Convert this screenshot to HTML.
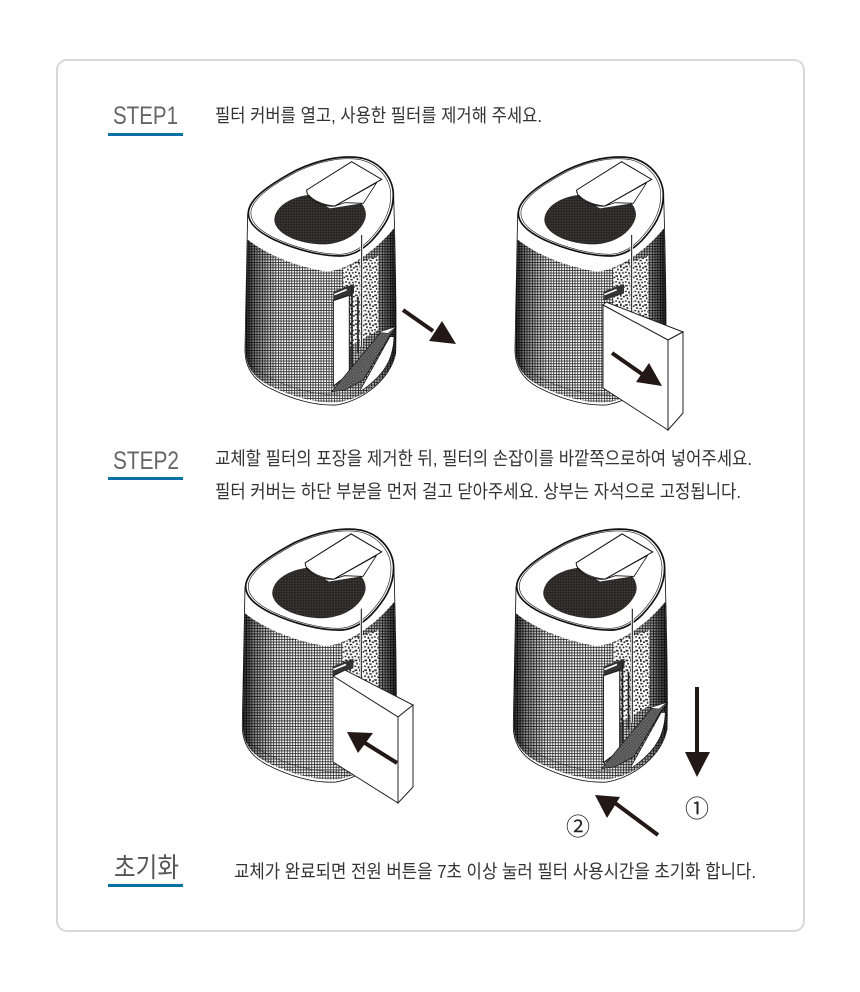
<!DOCTYPE html>
<html><head><meta charset="utf-8">
<style>
html,body{margin:0;padding:0;background:#fff;width:860px;height:992px;overflow:hidden}
svg{display:block}
.t{font-family:"Liberation Sans","Noto Sans CJK KR",sans-serif;font-size:18.5px;fill:#333}
.h{font-family:"Liberation Sans","Noto Sans CJK KR",sans-serif;font-size:25px;fill:#666}
.c{font-family:"Noto Sans CJK KR","Liberation Sans",sans-serif;font-size:24px;fill:#222}
</style></head><body>
<svg width="860" height="992" viewBox="0 0 860 992" xmlns="http://www.w3.org/2000/svg">
<defs>
<pattern id="mesh" width="8" height="8" patternUnits="userSpaceOnUse">
<rect width="8" height="8" fill="#fff"/>
<path d="M0 1H8M1 0V8" stroke="#222" stroke-width="2.5"/>
</pattern>
<pattern id="dark" width="8" height="8" patternUnits="userSpaceOnUse">
<rect width="8" height="8" fill="#2b2727"/>
<rect x="3" y="3" width="2" height="2" fill="#777"/>
</pattern>
<pattern id="speck" width="36" height="36" patternUnits="userSpaceOnUse" patternTransform="scale(.8)">
<rect width="36" height="36" fill="#fff"/>
<g fill="#222">
<rect x="1" y="2" width="10" height="6"/><rect x="18" y="0" width="6" height="10"/><rect x="29" y="7" width="7" height="6"/>
<rect x="7" y="13" width="6" height="7"/><rect x="19" y="16" width="9" height="5"/><rect x="0" y="24" width="7" height="5"/>
<rect x="13" y="26" width="6" height="8"/><rect x="26" y="26" width="6" height="6"/>
</g>
</pattern>
<pattern id="door" width="7" height="7" patternUnits="userSpaceOnUse" patternTransform="rotate(-40)">
<rect width="7" height="7" fill="#555"/><rect x="1" y="1" width="2" height="2" fill="#aaa"/>
</pattern>
<linearGradient id="shade" x1="0" x2="1" y1="0" y2="0">
<stop offset="0" stop-color="#000" stop-opacity=".85"/>
<stop offset=".07" stop-color="#000" stop-opacity=".45"/>
<stop offset=".22" stop-color="#000" stop-opacity=".05"/>
<stop offset=".6" stop-color="#000" stop-opacity="0"/>
<stop offset=".88" stop-color="#000" stop-opacity=".35"/>
<stop offset="1" stop-color="#000" stop-opacity=".85"/>
</linearGradient>
<path id="oval" d="M55,190 C55,150 110,108 200,60 C265,30 335,14 395,24 C455,38 490,88 490,135 C490,190 462,232 425,272 C395,302 365,318 330,318 C270,318 195,298 130,268 C85,246 55,220 55,190 Z"/>
<g id="dev">
<path d="M53,190 C50,350 48,500 45,600 C45,650 70,690 120,715 C190,750 260,768 320,765 C400,750 480,690 497,610 C500,500 497,350 491,135 Z" fill="#fff" stroke="#111" stroke-width="2.5"/>
<path d="M52,268 C110,315 200,350 290,365 C350,360 430,310 492,235 C497,350 500,500 497,610 C480,690 400,748 320,757 C260,760 190,742 120,708 C70,682 47,650 47,600 C48,500 50,350 52,268 Z" fill="url(#mesh)"/>
<path d="M52,268 C110,315 200,350 290,365 C350,360 430,310 492,235 C497,350 500,500 497,610 C480,690 400,748 320,757 C260,760 190,742 120,708 C70,682 47,650 47,600 C48,500 50,350 52,268 Z" fill="url(#shade)"/>
<path d="M340,355 L445,318 L445,540 L340,600 Z" fill="url(#speck)"/>
<use href="#oval" fill="#fff" stroke="#111" stroke-width="5"/>
<use href="#oval" fill="none" stroke="#222" stroke-width="2" transform="translate(272,170) scale(.965) translate(-272,-170)"/>
<path d="M133,210 C135,165 190,140 235,135 L300,175 L395,160 C410,180 412,200 400,220 C375,265 320,285 270,283 C200,280 135,250 133,210 Z" fill="url(#dark)"/>
<path d="M230,120 L365,35 L455,88 L315,168 C285,172 230,150 230,120 Z" fill="#fff" stroke="#111" stroke-width="3"/>
<path d="M236,135 C255,155 285,165 315,168" fill="none" stroke="#111" stroke-width="2"/>
<path d="M315,168 L440,98 L400,160 L345,158 Z" fill="#fff" stroke="#111" stroke-width="2.5"/>
<path d="M395,255 V590" stroke="#fff" stroke-width="8" fill="none"/>
<path d="M395,255 V590" stroke="#111" stroke-width="3" fill="none"/>
<path d="M60,645 C130,700 230,735 330,735" stroke="#111" stroke-width="1.5" fill="none" opacity=".7"/>
</g>
<g id="slot">
<path d="M310,425 L372,402 L372,430 L310,452 Z" fill="#333"/>
<path d="M313,434 L350,419" stroke="#fff" stroke-width="5"/>
</g>
<g id="door1">
<path d="M310,452 L358,436 L358,672 L310,708 Z" fill="#fff" stroke="#111" stroke-width="3"/>
<path d="M366,410 V650 M384,440 V610" stroke="#222" stroke-width="5" fill="none"/>
<path d="M390,722 L480,560 L492,560 C490,620 470,670 395,722 Z" fill="#fff" stroke="#111" stroke-width="2"/>
<path d="M305,725 L450,550 L498,532 L480,556 L400,690 L345,720 Z" fill="url(#door)" stroke="#111" stroke-width="2"/>
<path d="M445,547 L498,530 L474,550 Z" fill="#fff" stroke="#111" stroke-width="1.5"/>
</g>
</defs>

<rect x="57" y="60" width="747" height="871" rx="10" ry="10" fill="#fff" stroke="#d8d8d8" stroke-width="2"/>

<text class="h" x="113" y="124" textLength="65" lengthAdjust="spacingAndGlyphs">STEP1</text>
<rect x="108" y="133" width="75" height="3" fill="#0a70a5"/>
<text class="t" x="215" y="122" textLength="327" lengthAdjust="spacingAndGlyphs">필터 커버를 열고, 사용한 필터를 제거해 주세요.</text>

<text class="h" x="113" y="469" textLength="66" lengthAdjust="spacingAndGlyphs">STEP2</text>
<rect x="108" y="477" width="75" height="3" fill="#0a70a5"/>
<text class="t" x="215" y="465" textLength="537" lengthAdjust="spacingAndGlyphs">교체할 필터의 포장을 제거한 뒤, 필터의 손잡이를 바깥쪽으로하여 넣어주세요.</text>
<text class="t" x="215" y="498" textLength="526" lengthAdjust="spacingAndGlyphs">필터 커버는 하단 부분을 먼저 걸고 닫아주세요. 상부는 자석으로 고정됩니다.</text>

<text class="h" x="114" y="877" textLength="65" lengthAdjust="spacingAndGlyphs" style="font-size:27px;fill:#555">초기화</text>
<rect x="108" y="884" width="75" height="3" fill="#0a70a5"/>
<text class="t" x="234" y="878" textLength="522" lengthAdjust="spacingAndGlyphs">교체가 완료되면 전원 버튼을 7초 이상 눌러 필터 사용시간을 초기화 합니다.</text>

<!-- Device 1 -->
<g transform="translate(230,150) scale(.3333)"><use href="#dev"/><use href="#slot"/><use href="#door1"/></g>
<path d="M403,310 L433,331" stroke="#231815" stroke-width="4"/>
<path d="M456,344 L442,321 L429,341 Z" fill="#231815"/>

<!-- Device 2 -->
<g transform="translate(500,150) scale(.3333)"><use href="#dev"/><use href="#slot"/></g>
<path d="M603,305 L606,302 L683,332 L668,340 Z" fill="#fff" stroke="#222" stroke-width="1"/>
<path d="M603,305 L668,340 L668,430 L603,388 Z" fill="#fff" stroke="#222" stroke-width="1"/>
<path d="M668,340 L683,332 L683,413 L668,430 Z" fill="#fff" stroke="#222" stroke-width="1"/>
<path d="M612,353 L642,374" stroke="#231815" stroke-width="4"/>
<path d="M662,386 L649,363 L636,382 Z" fill="#231815"/>

<!-- Device 3 -->
<g transform="translate(227,522) scale(.34)"><use href="#dev"/><use href="#slot"/></g>
<path d="M333,676 L345,670 L413,705 L398,717 Z" fill="#fff" stroke="#222" stroke-width="1"/>
<path d="M333,676 L398,717 L398,803 L333,762 Z" fill="#fff" stroke="#222" stroke-width="1"/>
<path d="M398,717 L413,705 L413,787 L398,803 Z" fill="#fff" stroke="#222" stroke-width="1"/>
<path d="M397,763 L365,743" stroke="#231815" stroke-width="4"/>
<path d="M347,732 L373,733 L358,753 Z" fill="#231815"/>

<!-- Device 4 -->
<g transform="translate(498,522) scale(.34)"><use href="#dev"/><use href="#slot"/><use href="#door1"/></g>
<path d="M697,687 V755" stroke="#231815" stroke-width="4"/>
<path d="M685,752 H710 L697,777 Z" fill="#231815"/>
<path d="M658,835 L615,803" stroke="#231815" stroke-width="4"/>
<path d="M595,795 L620,797 L607,818 Z" fill="#231815"/>
<text class="c" x="697" y="817" text-anchor="middle">①</text>
<text class="c" x="578" y="835" text-anchor="middle">②</text>
</svg>
</body></html>
